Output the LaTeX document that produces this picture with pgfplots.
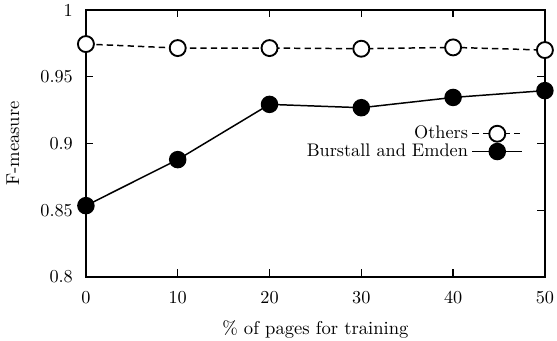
\documentclass[border=0pt]{standalone}
\usepackage{pgfplots}
\pgfplotsset{compat=1.18}
\begin{document}
\begin{tikzpicture}
\begin{axis}[
  name=ax,
  scale only axis,
  width=246.8pt, height=143.5pt,
  xmin=0, xmax=50, ymin=0.8, ymax=1,
  xtick={0,10,20,30,40,50},
  ytick={0.8,0.85,0.9,0.95,1},
  yticklabels={0.8,0.85,0.9,0.95,1},
  tick align=inside,
  major tick length=4pt,
  axis line style={line width=0.9pt},
  every tick/.style={black, line width=0.7pt},
  /pgf/number format/assume math mode=true,
  tick label style={font=\fontsize{9.8}{11.8}\selectfont},
  label style={font=\fontsize{9.8}{11.8}\selectfont},
  xlabel={\% of pages for training},
  ylabel={F-measure},
  every axis x label/.style={at={(axis description cs:0.5,-0.195)}, anchor=center},
  every axis y label/.style={at={(axis description cs:-0.159,0.5)}, anchor=center, rotate=90},
  xticklabel style={yshift=-4pt},
  yticklabel style={xshift=-3.5pt},
  legend style={draw=none, fill=none, at={(0.965,0.595)}, anchor=north east,
    font=\fontsize{9.8}{11.8}\selectfont, row sep=-2.8pt},
  legend cell align=right,
  legend plot pos=right,
  legend image code/.code={\draw[mark repeat=2,mark phase=2,#1] plot coordinates {(0cm,0cm)(0.47cm,0cm)(0.94cm,0cm)};},
]
\addplot[black, line width=0.8pt, dash pattern=on 3.4pt off 2.2pt,
  mark=*, mark size=4.3pt, mark options={solid, fill=white, line width=1pt}]
  coordinates {(0,0.9745) (10,0.9715) (20,0.9715) (30,0.971) (40,0.972) (50,0.970)};
\addlegendentry{Others}
\addplot[black, line width=0.8pt,
  mark=*, mark size=4.3pt, mark options={solid, fill=black}]
  coordinates {(0,0.8534) (10,0.8879) (20,0.9293) (30,0.9268) (40,0.9345) (50,0.9396)};
\addlegendentry{Burstall and Emden}
\end{axis}
\pgfresetboundingbox
\path[use as bounding box] ([shift={(-46.2pt,-34.4pt)}]ax.south west) rectangle ([shift={(6.5pt,5.4pt)}]ax.north east);
\end{tikzpicture}
\end{document}
